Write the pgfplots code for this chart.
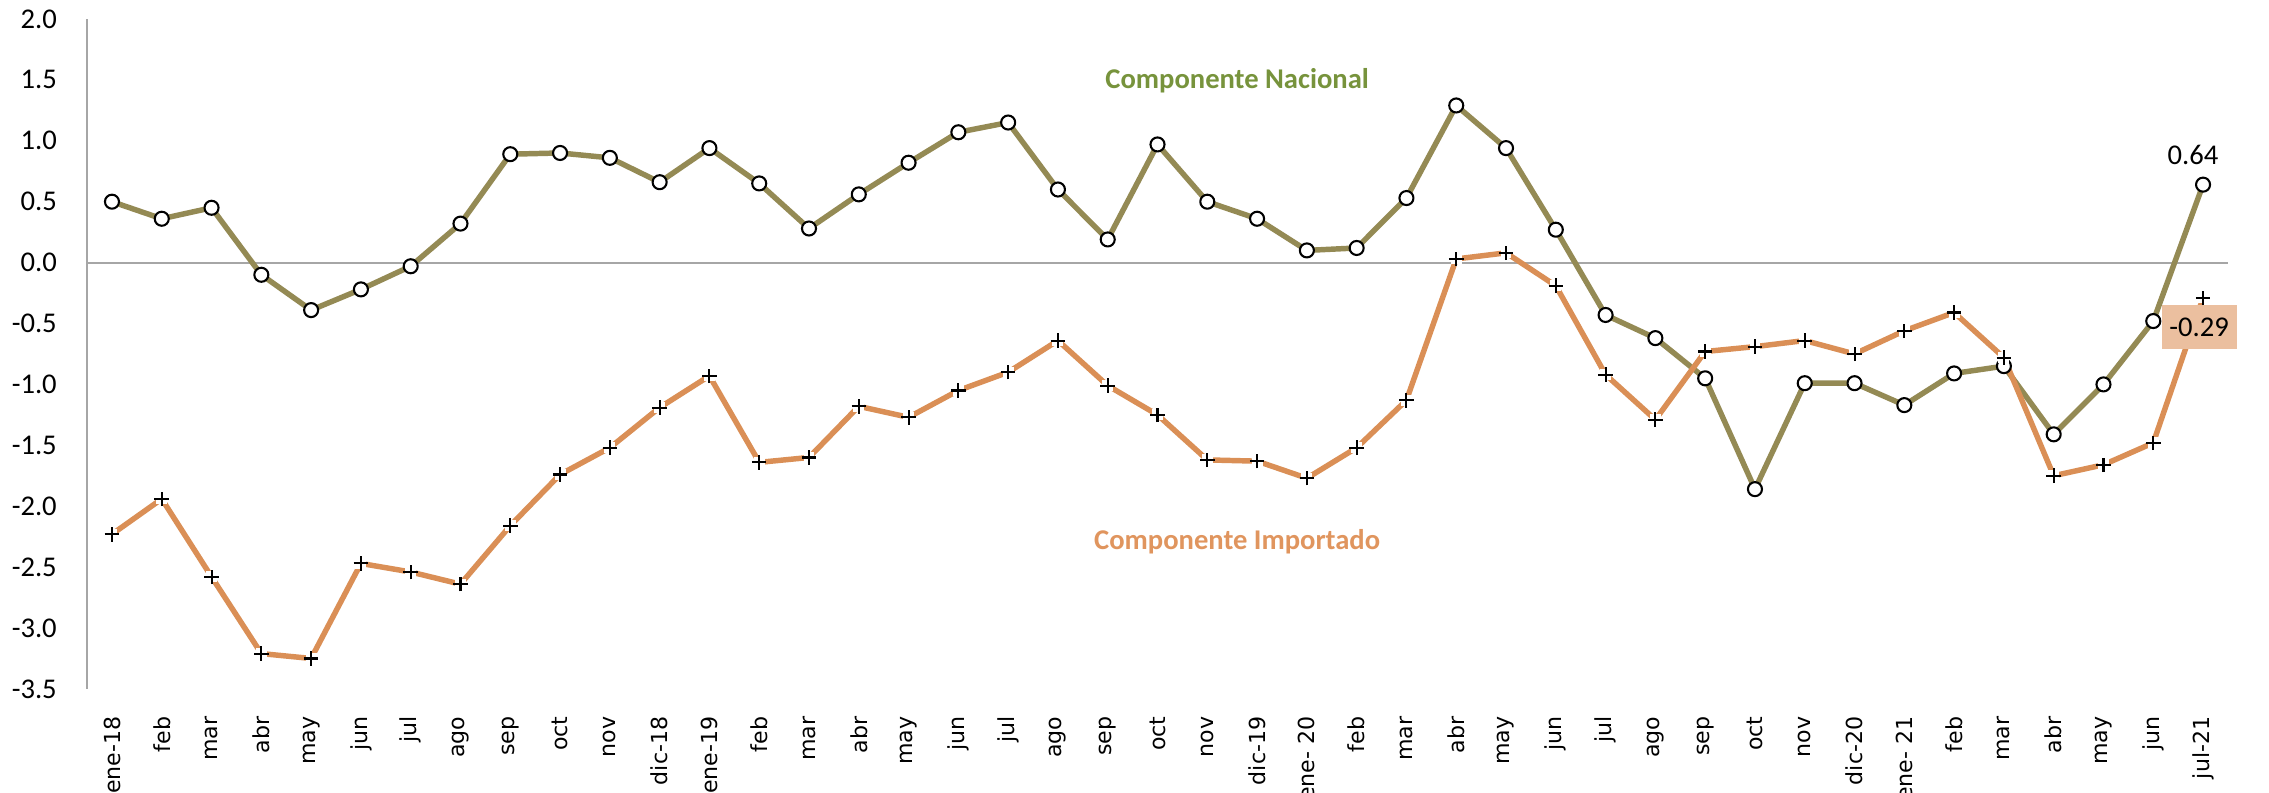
\documentclass[border=0pt]{standalone}
\usepackage{fontspec}
\setmainfont{Carlito}
\newfontfamily\dejavu{DejaVu Sans}
\usepackage{xcolor}
\usepackage{pgfplots}
\pgfplotsset{compat=1.18}

\definecolor{nacline}{HTML}{948A54}
\definecolor{nactext}{HTML}{77933C}
\definecolor{impline}{HTML}{DA8F56}
\definecolor{imptext}{HTML}{E0955E}
\definecolor{impbox}{HTML}{EBBF9F}
\definecolor{axgray}{HTML}{A6A6A6}

% plus with a white patch behind it, like the spreadsheet marker
\pgfdeclareplotmark{wplus}{%
  \pgfpathrectangle{\pgfpoint{-0.75\pgfplotmarksize}{-0.75\pgfplotmarksize}}%
    {\pgfpoint{1.5\pgfplotmarksize}{1.5\pgfplotmarksize}}%
  \pgfusepathqfill
  \pgfpathmoveto{\pgfpoint{-\pgfplotmarksize}{0pt}}%
  \pgfpathlineto{\pgfpoint{\pgfplotmarksize}{0pt}}%
  \pgfpathmoveto{\pgfpoint{0pt}{-\pgfplotmarksize}}%
  \pgfpathlineto{\pgfpoint{0pt}{\pgfplotmarksize}}%
  \pgfusepathqstroke}

\pgfplotstableread{
x nac imp
0 0.50 -2.23
1 0.36 -1.94
2 0.45 -2.58
3 -0.10 -3.21
4 -0.39 -3.25
5 -0.22 -2.47
6 -0.03 -2.54
7 0.32 -2.64
8 0.89 -2.16
9 0.90 -1.74
10 0.86 -1.52
11 0.66 -1.19
12 0.94 -0.93
13 0.65 -1.64
14 0.28 -1.60
15 0.56 -1.18
16 0.82 -1.27
17 1.07 -1.05
18 1.15 -0.90
19 0.60 -0.64
20 0.19 -1.01
21 0.97 -1.25
22 0.50 -1.62
23 0.36 -1.63
24 0.10 -1.77
25 0.12 -1.52
26 0.53 -1.13
27 1.29 0.03
28 0.94 0.08
29 0.27 -0.19
30 -0.43 -0.92
31 -0.62 -1.29
32 -0.95 -0.73
33 -1.86 -0.69
34 -0.99 -0.64
35 -0.99 -0.75
36 -1.17 -0.56
37 -0.91 -0.41
38 -0.85 -0.78
39 -1.41 -1.75
40 -1.00 -1.66
41 -0.48 -1.48
42 0.64 -0.29
}\datos

\begin{document}
\begin{tikzpicture}
\begin{axis}[
    scale only axis,
    width=823.5pt,
    height=257.7pt,
    xmin=-0.5, xmax=42.5,
    ymin=-3.5, ymax=2,
    clip=false,
    axis y line=left,
    axis x line=bottom,
    y axis line style={-, draw=axgray, line width=0.8pt},
    x axis line style={draw=none},
    tick style={draw=none},
    ytick={-3.5,-3,...,2},
    yticklabel style={font=\fontsize{11}{13}\selectfont, xshift=-6pt,
        /pgf/number format/fixed, /pgf/number format/fixed zerofill,
        /pgf/number format/precision=1},
    /pgf/number format/assume math mode=true,
    xtick={0,...,42},
    xticklabels={ene-18,feb,mar,abr,may,jun,jul,ago,sep,oct,nov,dic-18,
        ene-19,feb,mar,abr,may,jun,jul,ago,sep,oct,nov,dic-19,
        ene- 20,feb,mar,abr,may,jun,jul,ago,sep,oct,nov,dic-20,
        ene- 21,feb,mar,abr,may,jun,jul-21},
    xticklabel style={rotate=90, anchor=east, xshift=-5pt,
        font=\dejavu\fontsize{8.5}{10}\selectfont},
]
\coordinate (bl) at (rel axis cs:0,0);
\coordinate (tr) at (rel axis cs:1,1);
\addplot[axgray, line width=0.8pt, forget plot] coordinates {(-0.5,0) (42.5,0)};

\addplot[nacline, line width=2.1pt, line join=round,
    mark=*, mark size=2.7pt,
    mark options={draw=black, fill=white, line width=0.8pt}]
    table[x=x, y=nac] {\datos};

\addplot[impline, line width=2.1pt, line join=round,
    mark=wplus, mark size=2.8pt,
    mark options={draw=black, fill=white, line width=0.8pt}]
    table[x=x, y=imp] {\datos};

\node[text=nactext, font=\bfseries\fontsize{11}{13}\selectfont]
    at (axis cs:22.6,1.49) {Componente Nacional};
\node[text=imptext, font=\bfseries\fontsize{11}{13}\selectfont]
    at (axis cs:22.6,-2.29) {Componente Importado};
\node[font=\fontsize{11}{13}\selectfont] at (axis cs:41.8,0.88) {0.64};
\node[fill=impbox, inner xsep=3pt, minimum height=16.7pt,
    font=\fontsize{11}{13}\selectfont] at (axis cs:41.92,-0.53) {-0.29};
\end{axis}
\pgfresetboundingbox
\path ([xshift=-33.5pt,yshift=-40pt]bl) rectangle ([xshift=15.8pt,yshift=7.3pt]tr);
\end{tikzpicture}
\end{document}
